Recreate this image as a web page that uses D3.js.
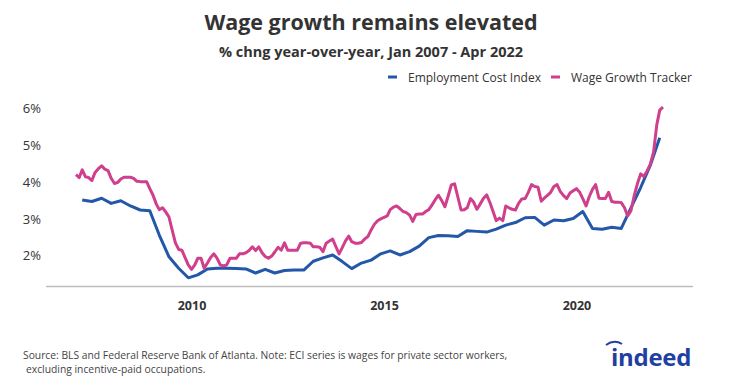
<!DOCTYPE html>
<html>
<head>
<meta charset="utf-8">
<script src="https://cdn.jsdelivr.net/npm/d3@7"></script>
<style>
  body { margin: 0; background: #fff; }
  svg { font-family: "Open Sans", sans-serif; }
</style>
</head>
<body>
<div id="chart"></div>
<script>
const W = 744, H = 385;

// Employment Cost Index, quarterly (Mar, Jun, Sep, Dec), 2007Q1 - 2022Q1
const eciStart = [2007, 2]; // March 2007
const eciValues = [
  3.51, 3.47, 3.56, 3.42,
  3.49, 3.35, 3.24, 3.22,
  2.56, 1.97, 1.66, 1.40,
  1.48, 1.64, 1.66, 1.66,
  1.65, 1.64, 1.53, 1.63,
  1.53, 1.60, 1.61, 1.61,
  1.85, 1.94, 2.02, 1.84,
  1.65, 1.80, 1.88, 2.05,
  2.13, 2.02, 2.11, 2.26,
  2.49, 2.55, 2.54, 2.52,
  2.68, 2.66, 2.64, 2.72,
  2.83, 2.90, 3.03, 3.04,
  2.83, 2.97, 2.95, 3.01,
  3.20, 2.74, 2.72, 2.77,
  2.74, 3.30, 3.85, 4.45,
  5.20
];

// Atlanta Fed Wage Growth Tracker, monthly, Jan 2007 - Apr 2022
const wgtStart = [2007, 0];
const wgtValues = [
  4.20, 4.12, 4.33, 4.14, 4.12, 4.04, 4.26, 4.36, 4.44, 4.35, 4.31, 4.10,
  3.96, 3.99, 4.08, 4.13, 4.13, 4.13, 4.10, 4.02, 4.01, 4.01, 4.01, 3.82,
  3.64, 3.40, 3.25, 3.30, 3.19, 3.05, 2.70, 2.35, 2.17, 2.15, 1.95, 1.75,
  1.63, 1.75, 1.93, 1.93, 1.66, 1.80, 1.95, 2.05, 1.93, 1.75, 1.72, 1.75,
  1.93, 1.93, 1.93, 2.05, 2.05, 2.08, 2.14, 2.24, 2.14, 2.24, 2.08, 1.98,
  1.93, 1.99, 2.10, 2.23, 2.15, 2.35, 2.15, 2.15, 2.15, 2.15, 2.34, 2.35,
  2.35, 2.34, 2.24, 2.24, 2.23, 2.11, 2.34, 2.40, 2.45, 2.25, 2.05, 2.22,
  2.40, 2.53, 2.38, 2.34, 2.34, 2.36, 2.45, 2.52, 2.70, 2.85, 2.95, 3.00,
  3.04, 3.08, 3.25, 3.32, 3.35, 3.28, 3.20, 3.17, 3.10, 2.93, 3.12, 3.13,
  3.13, 3.20, 3.25, 3.38, 3.52, 3.64, 3.50, 3.33, 3.62, 3.92, 3.95, 3.60,
  3.24, 3.25, 3.30, 3.55, 3.45, 3.26, 3.40, 3.55, 3.65, 3.45, 3.20, 2.95,
  3.02, 2.95, 3.35, 3.30, 3.26, 3.24, 3.42, 3.54, 3.55, 3.72, 3.93, 3.88,
  3.86, 3.48, 3.56, 3.64, 3.72, 3.88, 3.93, 3.74, 3.63, 3.55, 3.70, 3.76,
  3.82, 3.72, 3.55, 3.35, 3.60, 3.80, 3.93, 3.56, 3.55, 3.55, 3.72, 3.47,
  3.45, 3.45, 3.44, 3.30, 3.08, 3.22, 3.62, 3.95, 4.22, 4.15, 4.30, 4.48,
  4.80, 5.55, 5.95, 6.03
];

const yTicks = [2, 3, 4, 5, 6];
const xTickYears = [2010, 2015, 2020];
const seriesNames = ["Employment Cost Index", "Wage Growth Tracker"];
const colors = ["#2357a8", "#cf3f8c"];
const noteLines = [
  "Source: BLS and Federal Reserve Bank of Atlanta. Note: ECI series is wages for private sector workers,",
  "excluding incentive-paid occupations."
];

const eciData = eciValues.map((v, i) => ({date: new Date(eciStart[0], eciStart[1] + 3 * i, 1), value: v}));
const wgtData = wgtValues.map((v, i) => ({date: new Date(wgtStart[0], wgtStart[1] + i, 1), value: v}));

const svg = d3.select("#chart").append("svg")
  .attr("width", W)
  .attr("height", H);

// scales
const x = d3.scaleTime()
  .domain([new Date(2007, 0, 1), new Date(2022, 3, 1)])
  .range([76, 663]);
const y = d3.scaleLinear()
  .domain([2, 6])
  .range([255.7, 108.3]);

const axisY = 286.5;

// titles
svg.append("text")
  .attr("x", 371).attr("y", 30)
  .attr("text-anchor", "middle")
  .style("font-size", "21.5px").style("font-weight", 700).style("fill", "#333")
  .text("Wage growth remains elevated");

svg.append("text")
  .attr("x", 371).attr("y", 57)
  .attr("text-anchor", "middle")
  .style("font-size", "14.5px").style("font-weight", 700).style("fill", "#333")
  .text("% chng year-over-year, Jan 2007 - Apr 2022");

// legend
const legendX = [388, 551];
seriesNames.forEach((name, i) => {
  const g = svg.append("g").attr("transform", `translate(${legendX[i]}, 77)`);
  g.append("line")
    .attr("x1", 0).attr("x2", 9)
    .attr("stroke", colors[i]).attr("stroke-width", 3);
  g.append("text")
    .attr("x", 20).attr("y", 4.5)
    .style("font-size", "12px").style("fill", "#333")
    .text(name);
});

// y axis labels (no line)
svg.append("g")
  .attr("transform", "translate(41,0)")
  .call(d3.axisLeft(y).tickValues(yTicks).tickSize(0).tickPadding(0).tickFormat(d => d + "%"))
  .call(g => g.select(".domain").remove())
  .call(g => g.selectAll("text")
    .style("font-family", "Open Sans, sans-serif")
    .style("font-size", "13px").style("fill", "#333"));

// x axis
const xAxis = svg.append("g")
  .attr("transform", `translate(0,${axisY})`)
  .call(d3.axisBottom(x)
    .tickValues(xTickYears.map(yr => new Date(yr, 0, 1)))
    .tickSize(0).tickPadding(15)
    .tickFormat(d3.timeFormat("%Y")));
xAxis.select(".domain").remove();
xAxis.selectAll("text")
  .style("font-family", "Open Sans, sans-serif")
  .style("font-size", "12.5px").style("font-weight", 700).style("fill", "#333");

svg.append("line")
  .attr("x1", 46).attr("x2", 693)
  .attr("y1", axisY).attr("y2", axisY)
  .attr("stroke", "#bdbdbd").attr("stroke-width", 1.5);

// lines
const line = d3.line()
  .x(d => x(d.date))
  .y(d => y(d.value));

svg.append("path")
  .datum(eciData)
  .attr("fill", "none")
  .attr("stroke", colors[0])
  .attr("stroke-width", 3)
  .attr("stroke-linejoin", "round")
  .attr("d", line);

svg.append("path")
  .datum(wgtData)
  .attr("fill", "none")
  .attr("stroke", colors[1])
  .attr("stroke-width", 3)
  .attr("stroke-linejoin", "round")
  .attr("d", line);

// source note, one text per line
svg.selectAll(".note")
  .data(noteLines)
  .join("text")
  .attr("class", "note")
  .attr("x", (d, i) => i === 0 ? 23 : 26)
  .attr("y", (d, i) => 359 + i * 14)
  .style("font-size", "10.3px").style("fill", "#444")
  .text(d => d);

// indeed logo
const logo = svg.append("g").attr("transform", "translate(611,366)");
logo.append("text")
  .attr("x", 0).attr("y", 0)
  .style("font-family", "Open Sans, sans-serif")
  .style("font-size", "24px").style("font-weight", 700)
  .style("letter-spacing", "-0.3px")
  .style("fill", "#1f3fa2")
  .text("indeed");
logo.append("path")
  .attr("d", "M -5 -21 Q 3 -27 11 -22")
  .attr("fill", "none")
  .attr("stroke", "#1f3fa2")
  .attr("stroke-width", 2);
</script>
</body>
</html>
